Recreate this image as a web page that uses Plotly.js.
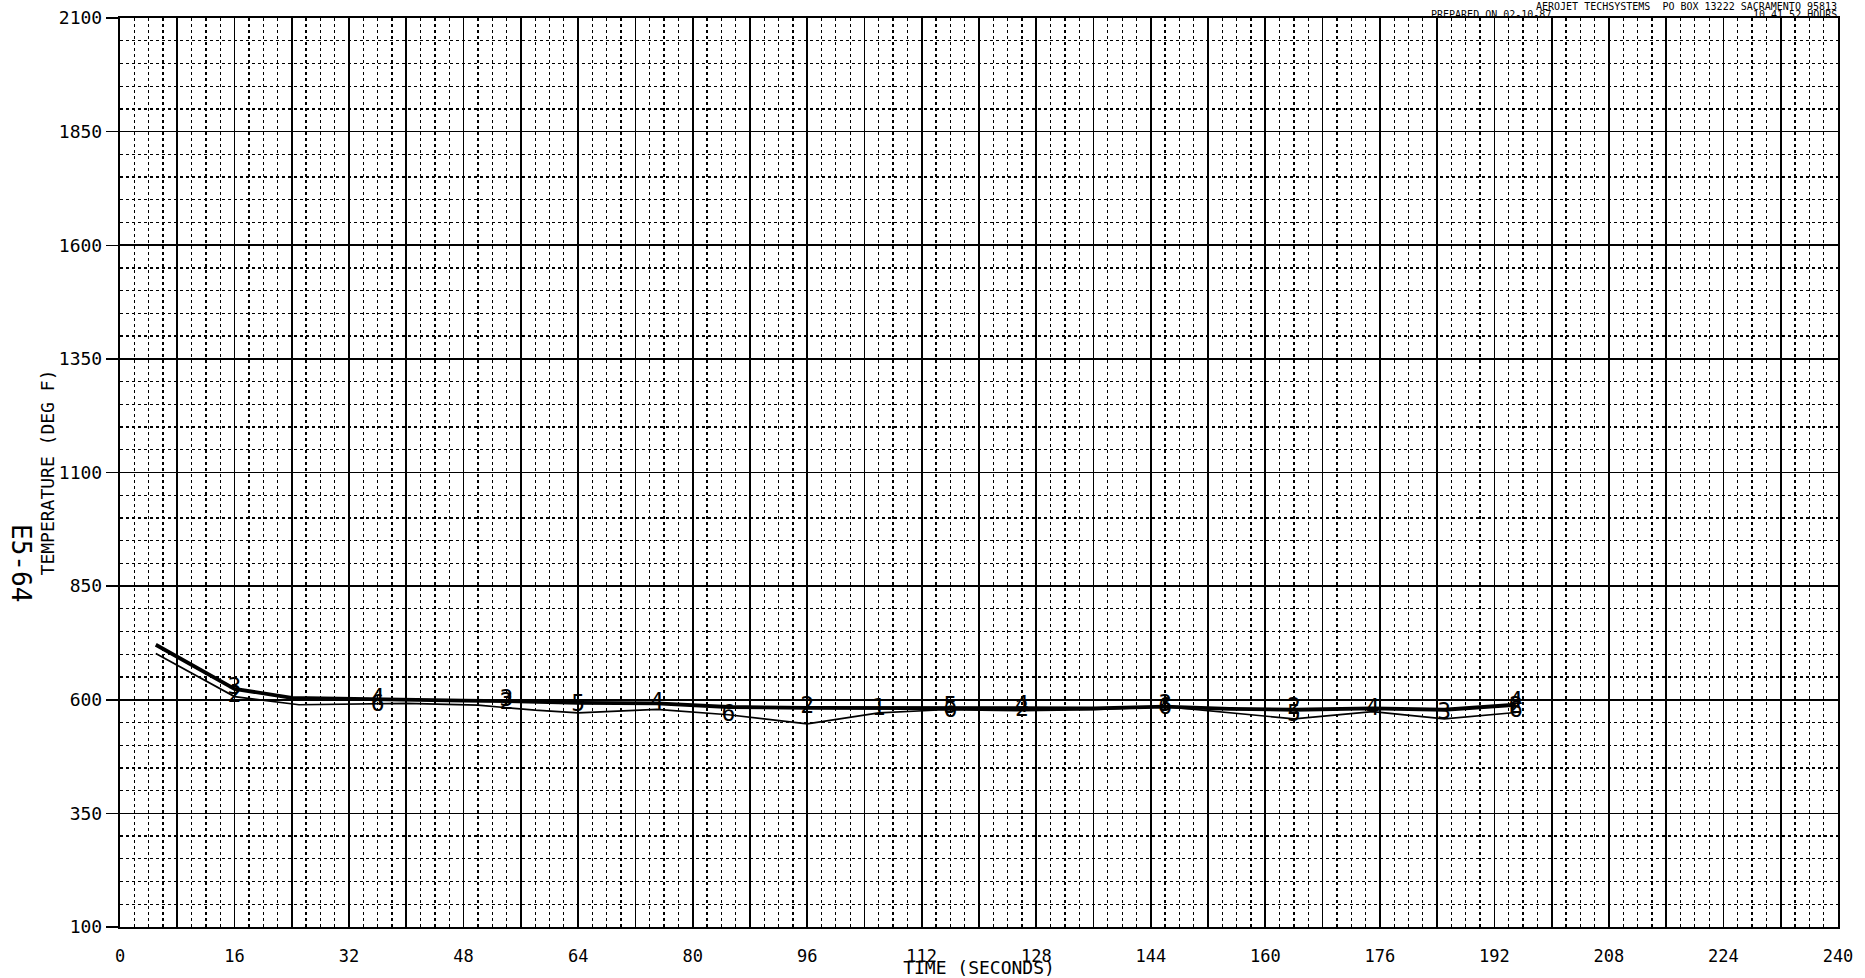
<!DOCTYPE html>
<html>
<head>
<meta charset="utf-8">
<script src="https://cdn.plot.ly/plotly-3.0.1.min.js"></script>
<style>
  html, body { margin: 0; padding: 0; background: #ffffff; }
  #chart { width: 1865px; height: 978px; }
</style>
</head>
<body>
<div id="chart"></div>
<script>
// ---- Data ----
const upperTime = [5, 16, 24, 36, 48, 54, 64, 75, 85, 96, 106, 116, 126, 136, 146, 155, 164, 175, 185, 195];
const upperTemp = [721, 624, 604, 600, 598, 597, 593, 592, 584, 582, 582, 580, 581, 581, 585, 580, 578, 581, 578, 589];

const lowerTime = [5, 16, 25, 40, 50, 58, 64, 75, 85, 96, 106, 115, 126, 136, 146, 155, 164, 175, 185, 195];
const lowerTemp = [702, 607, 589, 592, 588, 577, 571, 579, 567, 547, 571, 578, 576, 578, 585, 572, 558, 574, 558, 572];

const labelTime = [16, 16, 36, 36, 54, 54, 64, 75, 85, 96, 106, 116, 116, 126, 126, 146, 146, 164, 164, 175, 185, 195, 195, 195];
const labelTemp = [626, 608, 602, 588, 598, 593, 588, 592, 566, 584, 580, 583, 575, 585, 577, 589, 581, 582, 565, 580, 570, 594, 584, 574];
const labelText = ['3', '2', '4', '6', '3', '2', '5', '4', '6', '2', '1', '5', '6', '4', '2', '3', '6', '2', '5', '4', '3', '4', '2', '6'];

const xTickLabels = ['0', '16', '32', '48', '64', '80', '96', '112', '128', '144', '160', '176', '192', '208', '224', '240'];
const yTickLabels = ['100', '350', '600', '850', '1100', '1350', '1600', '1850', '2100'];

// ---- Axis tick arrays built from labels (solid grid every 8 s, labels every 16 s) ----
const xTickVals = [];
const xTickText = [];
for (let i = 0; i < xTickLabels.length; i++) {
  const v = Number(xTickLabels[i]);
  xTickVals.push(v); xTickText.push(xTickLabels[i]);
  if (i < xTickLabels.length - 1) { xTickVals.push(v + 8); xTickText.push(''); }
}
const yTickVals = yTickLabels.map(Number);

const FONT = 'DejaVu Sans Mono, Liberation Mono, monospace';

const traces = [
  {
    x: lowerTime, y: lowerTemp, type: 'scatter', mode: 'lines',
    line: { color: '#000000', width: 1.7 }, hoverinfo: 'skip', showlegend: false
  },
  {
    x: upperTime, y: upperTemp, type: 'scatter', mode: 'lines',
    line: { color: '#000000', width: 3.8 }, hoverinfo: 'skip', showlegend: false
  },
  {
    x: labelTime, y: labelTemp, text: labelText, type: 'scatter', mode: 'text',
    textposition: 'middle center',
    textfont: { family: FONT, size: 23, color: '#000000' },
    hoverinfo: 'skip', showlegend: false
  }
];

const layout = {
  width: 1865, height: 978,
  margin: { l: 120, r: 27, t: 18, b: 51 },
  paper_bgcolor: '#ffffff', plot_bgcolor: '#ffffff',
  font: { family: FONT, color: '#000000', size: 17 },
  xaxis: {
    range: [0, 240], tickmode: 'array', tickvals: xTickVals, ticktext: xTickText,
    showgrid: true, gridcolor: '#000000', gridwidth: 1.7,
    zeroline: false, showline: true, linecolor: '#000000', linewidth: 2.2, mirror: true,
    ticks: '', ticklabelstandoff: 12,
    tickfont: { family: FONT, size: 17, color: '#000000' },
    minor: { tick0: 0, dtick: 2, showgrid: true, gridcolor: '#000000', griddash: 'dot', gridwidth: 1.3, ticks: '' },
    title: { text: 'TIME (SECONDS)', font: { family: FONT, size: 18, color: '#000000' }, standoff: 0 }
  },
  yaxis: {
    range: [100, 2100], tickmode: 'array', tickvals: yTickVals, ticktext: yTickLabels,
    showgrid: true, gridcolor: '#000000', gridwidth: 1.7,
    zeroline: false, showline: true, linecolor: '#000000', linewidth: 2.2, mirror: true,
    ticks: 'outside', ticklen: 12, tickwidth: 1.5, tickcolor: '#000000',
    tickfont: { family: FONT, size: 18, color: '#000000' },
    minor: { tick0: 100, dtick: 50, showgrid: true, gridcolor: '#000000', griddash: 'dot', gridwidth: 1.3, ticks: '' },
    title: { text: 'TEMPERATURE (DEG F)', font: { family: FONT, size: 18, color: '#000000' }, standoff: 0 }
  },
  annotations: [
    {
      xref: 'paper', yref: 'paper', x: 1, y: 1, xanchor: 'right', yanchor: 'bottom', yshift: 5,
      text: 'AEROJET TECHSYSTEMS  PO BOX 13222 SACRAMENTO 95813', showarrow: false,
      font: { family: FONT, size: 10, color: '#000000' }, borderpad: 0
    },
    {
      xref: 'paper', yref: 'paper', x: 0.7625, y: 1, xanchor: 'left', yanchor: 'bottom', yshift: -3,
      text: 'PREPARED ON 02-10-87', showarrow: false,
      font: { family: FONT, size: 10, color: '#000000' }, borderpad: 0
    },
    {
      xref: 'paper', yref: 'paper', x: 1, y: 1, xanchor: 'right', yanchor: 'bottom', yshift: -3,
      text: '10.41.52 HOURS', showarrow: false,
      font: { family: FONT, size: 10, color: '#000000' }, borderpad: 0
    },
    {
      xref: 'paper', yref: 'paper', x: -0.058, y: 0.4, xanchor: 'center', yanchor: 'middle',
      text: 'E5-64', showarrow: false, textangle: 90,
      font: { family: FONT, size: 26, color: '#000000' }
    }
  ]
};

Plotly.newPlot('chart', traces, layout, { displayModeBar: false, staticPlot: true });
</script>
</body>
</html>
